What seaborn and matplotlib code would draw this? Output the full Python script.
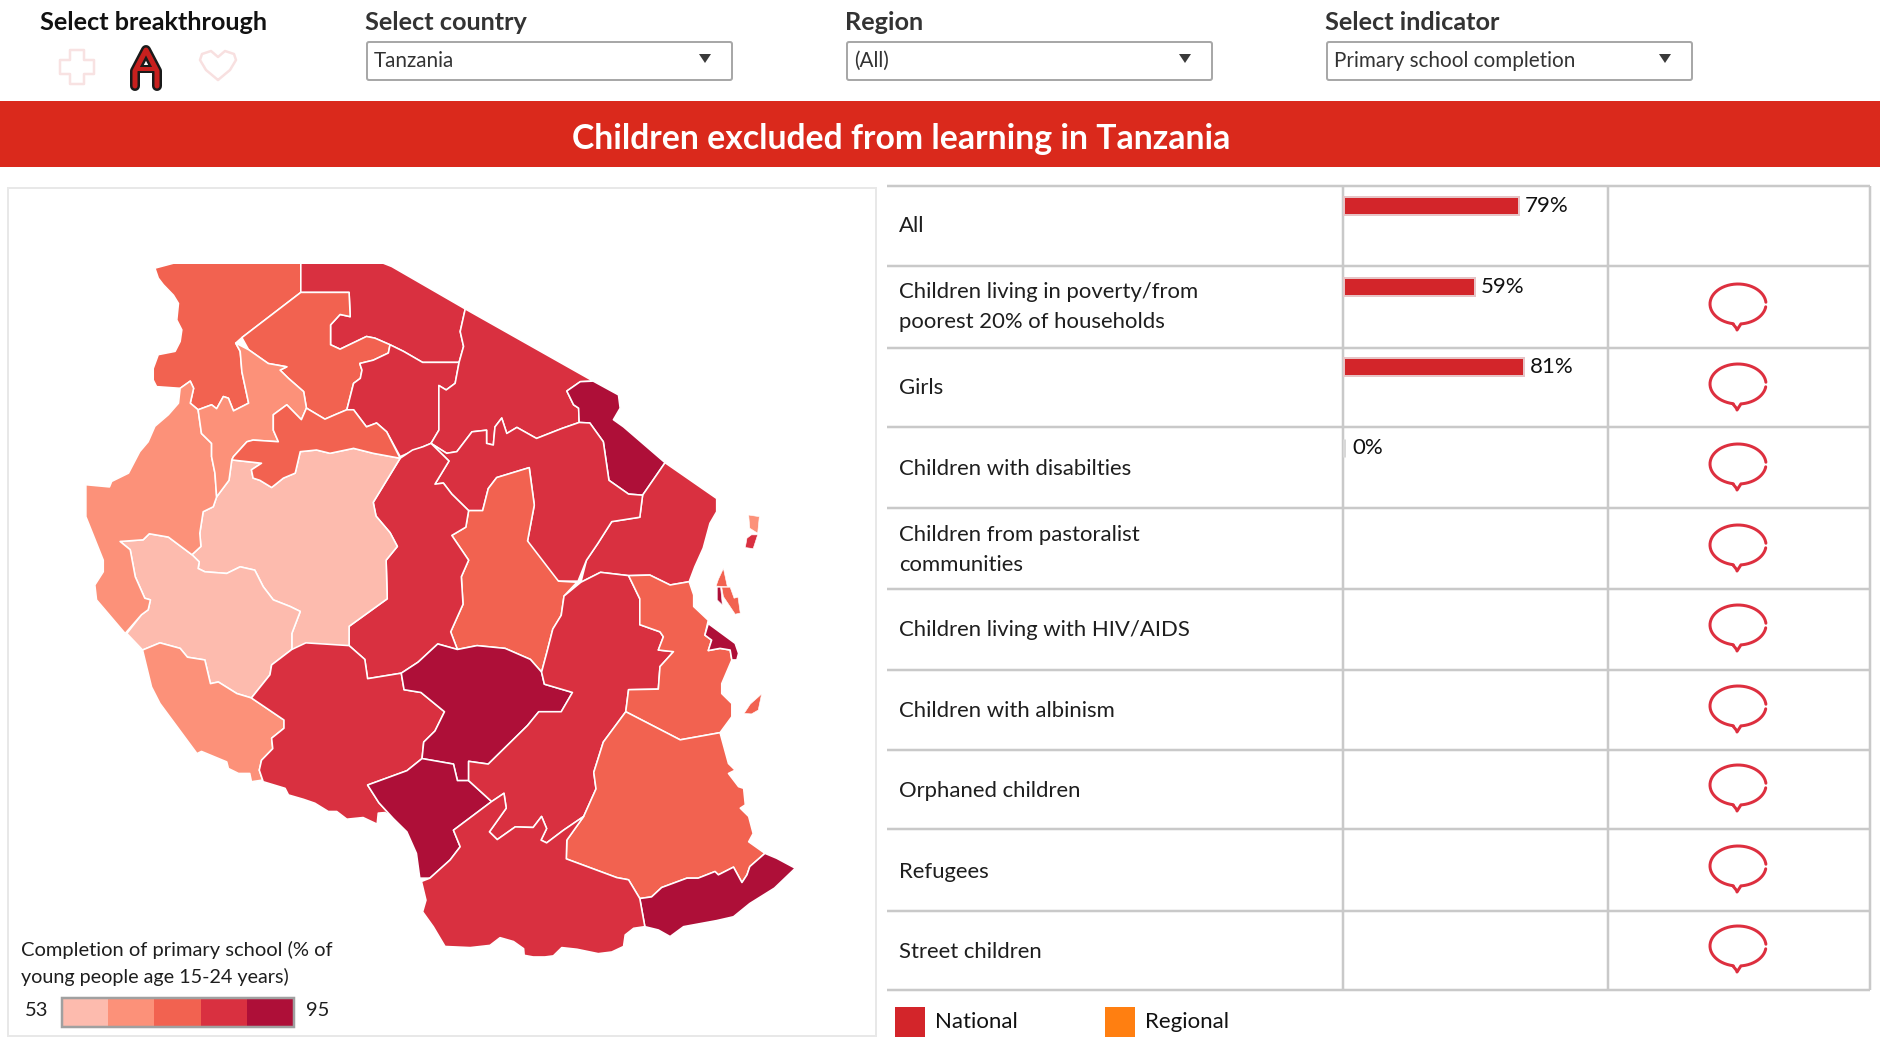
import matplotlib
matplotlib.use("Agg")
import matplotlib.pyplot as plt
from matplotlib.patches import Polygon, Rectangle, FancyBboxPatch
import numpy as np
import pandas as pd
import seaborn as sns

W, H = 1881, 1044

# ---- table data
groups = ["All", "Children living in poverty/from\npoorest 20% of households", "Girls",
          "Children with disabilties", "Children from pastoralist\ncommunities",
          "Children living with HIV/AIDS", "Children with albinism", "Orphaned children",
          "Refugees", "Street children"]
national = [79, 59, 81, 0, np.nan, np.nan, np.nan, np.nan, np.nan, np.nan]
label_y = [226, 307, 388, 469, 550, 630, 711, 791, 872, 952]
row_lines = [186, 266, 348, 427, 508, 589, 670, 750, 829, 911, 990]
bubble_y = [304, 384, 464, 545, 625, 706, 785, 866, 946]

# ---- selectors
selector_titles = ["Select country", "Region", "Select indicator"]
selector_values = ["Tanzania", "(All)", "Primary school completion"]
selector_x = [367, 847, 1327]

legend_colors = ["#FDBBAE", "#FC9179", "#F26250", "#D93040", "#AE0F38"]
legend_min, legend_max = 53, 95

# ---- map regions, outlines
kagera = [(276,160),(309,151),(536,151),(536,204),(431,286),(420,296),(428,311),(431,348),(443,405),(416,419),(407,396),(398,393),(386,415),(377,408),(353,417),(339,405),(345,378),(339,365),(321,378),(279,375),(273,363),(273,342),(282,317),(312,311),(321,293),(324,272),(315,254),(318,224),(309,209),(291,190),(282,178)]
mara = [(536,151),(683,151),(698,157),(829,234),(820,275),(826,302),(818,331),(753,331),(719,311),(695,299),(668,287),(653,284),(606,307),(589,299),(589,263),(606,244),(624,248),(622,204),(536,204)]
mwanza = [(536,204),(622,204),(624,248),(606,244),(589,263),(589,299),(606,307),(653,284),(668,287),(695,299),(692,314),(665,327),(641,333),(645,345),(642,360),(630,369),(627,381),(618,417),(597,426),(579,434),(546,414),(541,384),(514,360),(499,345),(511,339),(478,333),(443,308),(431,286)]
simiyu = [(695,299),(719,311),(753,331),(818,331),(811,369),(795,381),(782,373),(782,454),(768,478),(754,484),(713,502),(689,457),(671,441),(653,448),(630,417),(618,417),(627,381),(630,369),(642,360),(645,345),(641,333),(665,327),(692,314)]
arusha = [(829,234),(1057,365),(1034,366),(1010,383),(1022,408),(1031,414),(1032,440),(1001,451),(956,469),(921,449),(903,460),(894,432),(882,448),(879,481),(867,478),(867,454),(841,457),(814,493),(796,496),(768,478),(782,454),(782,373),(795,381),(811,369),(818,331),(826,302),(820,275)]
kilimanjaro = [(1057,365),(1102,390),(1105,414),(1093,435),(1111,448),(1185,513),(1145,572),(1120,570),(1085,545),(1075,475),(1051,441),(1032,440),(1031,414),(1022,408),(1010,383),(1034,366)]
tanga = [(1185,513),(1277,578),(1277,602),(1265,623),(1253,668),(1238,702),(1228,729),(1194,735),(1158,717),(1120,718),(1070,712),(1035,730),(1045,690),(1065,660),(1090,620),(1140,612),(1145,572)]
manyara = [(768,478),(796,496),(814,493),(841,457),(867,454),(867,478),(879,481),(882,448),(894,432),(903,460),(921,449),(956,469),(1001,451),(1032,440),(1051,441),(1075,475),(1085,545),(1120,570),(1145,572),(1140,612),(1090,620),(1065,660),(1045,690),(1030,728),(995,728),(945,680),(940,655),(952,590),(943,522),(885,540),(870,560),(860,600),(835,600),(805,570),(790,550),(775,552),(800,510)]
dodoma = [(943,522),(952,590),(940,655),(995,728),(1028,730),(1005,755),(1000,790),(985,815),(975,855),(965,893),(945,870),(900,850),(850,845),(815,852),(803,820),(825,770),(822,720),(835,690),(805,645),(830,630),(835,600),(860,600),(870,560),(885,540)]
singida = [(713,505),(735,490),(754,484),(768,478),(800,510),(775,552),(790,550),(805,570),(835,600),(830,630),(805,645),(835,690),(822,720),(825,770),(803,820),(815,852),(780,842),(745,875),(715,895),(655,905),(650,870),(622,845),(622,810),(690,760),(688,690),(708,665),(695,640),(670,610),(665,585)]
tabora = [(413,508),(466,514),(448,526),(451,541),(463,545),(484,558),(505,541),(526,532),(535,493),(564,490),(588,496),(630,487),(665,496),(713,505),(665,585),(670,610),(695,640),(708,665),(688,690),(690,760),(622,810),(622,845),(520,852),(520,823),(535,783),(517,774),(487,762),(469,738),(454,708),(428,702),(404,714),(365,711),(353,705),(355,693),(342,680),(358,665),(356,641),(362,602),(380,593),(386,575),(408,545)]
katavi = [(214,656),(255,653),(266,642),(300,648),(342,680),(355,693),(353,705),(365,711),(404,714),(428,702),(454,708),(469,738),(487,762),(517,774),(535,783),(520,823),(520,852),(484,880),(481,898),(448,940),(422,932),(389,911),(375,914),(365,871),(334,866),(321,850),(285,840),(254,853),(226,823),(252,789),(264,780),(268,762),(258,759),(241,720),(232,671)]
kigoma = [(153,553),(195,557),(199,547),(229,532),(249,493),(264,475),(276,447),(300,426),(318,405),(321,378),(339,365),(345,378),(339,405),(353,417),(359,460),(377,478),(377,502),(383,532),(386,575),(380,593),(362,602),(356,641),(358,665),(342,680),(300,648),(266,642),(255,653),(214,656),(232,671),(241,720),(258,759),(268,762),(264,780),(252,789),(223,823),(172,762),(169,735),(184,711),(184,690),(153,611)]
geita = [(420,296),(443,308),(478,333),(511,339),(499,345),(514,360),(541,384),(546,414),(537,435),(511,408),(487,426),(487,454),(496,475),(451,472),(440,475),(416,502),(413,508),(408,545),(386,575),(383,532),(377,502),(377,478),(359,460),(353,417),(377,408),(386,415),(398,393),(407,396),(416,419),(443,405),(431,348),(428,311)]
shinyanga = [(546,414),(579,434),(597,426),(618,417),(630,417),(653,448),(671,441),(689,457),(713,505),(665,496),(630,487),(588,496),(564,490),(535,493),(526,532),(505,541),(484,558),(463,545),(451,541),(448,526),(466,514),(413,508),(416,502),(440,475),(451,472),(496,475),(487,454),(487,426),(511,408),(537,435)]
rukwa = [(254,853),(285,840),(321,850),(334,866),(365,871),(375,914),(389,911),(422,932),(448,940),(506,980),(506,995),(484,1013),(486,1032),(466,1053),(462,1071),(468,1089),(448,1092),(445,1077),(425,1077),(407,1068),(404,1056),(359,1037),(351,1041),(285,950),(270,920)]
mbeya = [(448,940),(481,898),(484,880),(520,852),(545,840),(622,845),(650,870),(655,905),(715,895),(720,925),(750,930),(792,965),(775,1000),(755,1020),(752,1050),(725,1072),(655,1098),(675,1130),(701,1159),(686,1148),(674,1149),(672,1169),(647,1157),(618,1160),(600,1146),(585,1146),(561,1131),(541,1124),(514,1116),(508,1104),(469,1092),(468,1089),(462,1071),(466,1053),(486,1032),(484,1013),(506,995),(506,980)]
iringa = [(715,895),(745,875),(780,842),(815,852),(850,845),(900,850),(945,870),(965,893),(970,915),(1020,930),(1000,965),(960,965),(940,990),(870,1060),(835,1055),(835,1090),(815,1090),(808,1060),(752,1050),(755,1020),(775,1000),(792,965),(750,930),(720,925)]
njombe = [(655,1098),(725,1072),(752,1050),(808,1060),(815,1090),(835,1090),(876,1128),(808,1180),(820,1210),(802,1234),(766,1267),(748,1267),(742,1222),(725,1183),(701,1159),(675,1130)]
morogoro = [(1035,730),(1070,712),(1120,718),(1140,760),(1140,807),(1176,820),(1182,829),(1173,853),(1200,856),(1176,883),(1173,924),(1120,925),(1115,965),(1075,1020),(1058,1075),(1062,1105),(1040,1155),(1004,1180),(974,1203),(964,1198),(974,1177),(965,1155),(950,1175),(918,1174),(886,1197),(872,1183),(902,1140),(898,1113),(876,1128),(835,1090),(835,1055),(870,1060),(940,990),(960,965),(1000,965),(1020,930),(970,915),(965,893),(975,855),(985,815),(1000,790),(1005,755)]
pwani = [(1120,718),(1158,717),(1194,735),(1228,729),(1236,753),(1236,774),(1262,799),(1256,826),(1268,835),(1262,854),(1283,850),(1301,853),(1304,871),(1286,914),(1286,932),(1304,950),(1304,974),(1283,1003),(1212,1016),(1115,965),(1120,925),(1173,924),(1176,883),(1200,856),(1173,853),(1182,829),(1176,820),(1140,807),(1140,760)]
dar = [(1262,805),(1310,841),(1316,859),(1313,871),(1304,871),(1301,853),(1283,850),(1262,854),(1268,835),(1256,826)]
lindi = [(1115,965),(1212,1016),(1283,1003),(1298,1059),(1310,1071),(1298,1077),(1316,1101),(1325,1104),(1328,1134),(1319,1140),(1334,1155),(1342,1186),(1334,1201),(1363,1222),(1336,1246),(1331,1261),(1322,1275),(1307,1247),(1280,1261),(1274,1255),(1244,1267),(1224,1267),(1179,1284),(1161,1301),(1140,1304),(1120,1270),(1099,1266),(1009,1232),(1010,1198),(1040,1155),(1062,1105),(1058,1075),(1075,1020)]
mtwara = [(1140,1304),(1161,1301),(1179,1284),(1224,1267),(1244,1267),(1274,1255),(1280,1261),(1307,1247),(1322,1275),(1331,1261),(1336,1246),(1363,1222),(1384,1231),(1417,1249),(1380,1285),(1336,1313),(1307,1337),(1277,1344),(1218,1355),(1194,1373),(1173,1361),(1149,1355)]
ruvuma = [(876,1128),(898,1113),(902,1140),(872,1183),(886,1197),(918,1174),(950,1175),(965,1155),(974,1177),(964,1198),(974,1203),(1004,1180),(1040,1155),(1010,1198),(1009,1232),(1099,1266),(1120,1270),(1140,1304),(1149,1355),(1129,1358),(1114,1370),(1111,1391),(1090,1401),(1066,1404),(1028,1396),(1001,1393),(986,1408),(971,1410),(950,1410),(934,1407),(933,1395),(915,1382),(891,1375),(873,1389),(838,1393),(793,1391),(772,1355),(753,1328),(759,1307),(751,1273),(766,1267),(802,1234),(820,1210),(808,1180)]
pemba_n = [(1334,608),(1353,611),(1350,641),(1336,632)]
pemba_s = [(1339,644),(1350,644),(1342,669),(1328,667),(1331,650)]
unguja_n = [(1289,705),(1296,738),(1276,737),(1280,725)]
unguja_s = [(1286,739),(1301,739),(1308,759),(1315,757),(1319,786),(1310,788),(1289,756)]
unguja_w = [(1278,739),(1284,739),(1287,771),(1278,762)]
mafia = [(1357,933),(1351,962),(1339,969),(1326,968),(1337,951)]

regions = [kagera, mara, mwanza, simiyu, arusha, kilimanjaro, tanga, manyara, dodoma, singida,
           tabora, katavi, kigoma, geita, shinyanga, rukwa, mbeya, iringa, njombe, morogoro,
           pwani, dar, lindi, mtwara, ruvuma]
region_values = [72, 84, 72, 84, 84, 92, 84, 84, 72, 84,
                 57, 57, 65, 65, 72, 65, 84, 92, 92, 84,
                 72, 92, 72, 92, 84]
islands = [pemba_n, pemba_s, unguja_n, unguja_s, unguja_w, mafia]
island_values = [65, 84, 72, 72, 92, 72]

sns.set_theme(style="white")
plt.rcParams["font.family"] = ["Lato", "DejaVu Sans"]

INK = "#1E1E1E"
GREY = "#333333"
LINE = "#C9C9C9"
BAR = "#D3252A"
ORANGE = "#FF7F11"
BANNER = "#DA291C"
BUBBLE = "#DD2F3F"


def px(n):
    # pixels to points at dpi=100
    return n * 0.72


def ellipse_pts(cx, cy, a, b, t0, t1, n=80):
    t = np.radians(np.linspace(t0, t1, n))
    return cx + a * np.cos(t), cy + b * np.sin(t)


fig = plt.figure(figsize=(W / 100, H / 100), dpi=100)
bg = fig.add_axes([0, 0, 1, 1])
bg.set_xlim(0, W)
bg.set_ylim(H, 0)
bg.axis("off")

# header
bg.text(40, 23, "Select breakthrough", fontsize=18.2, fontweight="bold", color="#111111", va="center")
for title, value, x0 in zip(selector_titles, selector_values, selector_x):
    bg.text(x0 - 2, 23, title, fontsize=18.2, fontweight="bold", color=GREY, va="center")
    bg.add_patch(FancyBboxPatch((x0, 42), 365, 38, boxstyle="round,pad=0,rounding_size=2",
                                fc="white", ec="#A8A8A8", lw=px(2)))
    bg.text(x0 + 7, 61, value, fontsize=14.9, color=GREY, va="center")
    ax_tri = x0 + 338
    bg.add_patch(Polygon([(ax_tri - 6, 54), (ax_tri + 6, 54), (ax_tri, 63)], fc="#3A3A3A", ec="none"))

# breakthrough icons
cross = [(70,50),(84,50),(84,60),(94,60),(94,74),(84,74),(84,84),(70,84),(70,74),(60,74),(60,60),(70,60)]
bg.add_patch(Polygon(cross, closed=True, fc="white", ec="#F8E2E2", lw=px(2.5), joinstyle="round"))
hx = [218, 206, 200, 202, 211, 218, 225, 234, 236, 230, 218]
hy = [80, 70, 60, 54, 51, 57, 51, 54, 60, 70, 80]
bg.plot(hx, hy, color="#F8E0E0", lw=px(2.5), solid_joinstyle="round")
for col, lw in [("#1A1A1A", 10), ("#C8201E", 5)]:
    bg.plot([135, 135, 146, 157, 157], [86, 71, 50, 71, 86], color=col, lw=px(lw),
            solid_capstyle="round", solid_joinstyle="round")
    bg.plot([137, 155], [69, 69], color=col, lw=px(lw * 0.8), solid_capstyle="butt")

# banner
bg.add_patch(Rectangle((0, 101), W, 66, fc=BANNER, ec="none"))
bg.text(901, 139, "Children excluded from learning in Tanzania", color="white", fontsize=24.3,
        fontweight="bold", ha="center", va="center")

# map panel
bg.add_patch(Rectangle((8, 188), 868, 848, fc="white", ec="#E8E8E8", lw=px(2)))

# table grid
for y in row_lines:
    bg.plot([887, 1870], [y, y], color=LINE, lw=px(2.5), solid_capstyle="butt")
for x in [1343, 1608, 1870]:
    bg.plot([x, x], [186, 990], color=LINE, lw=px(2.5), solid_capstyle="butt")
for name, y in zip(groups, label_y):
    bg.text(899, y, name, fontsize=15.9, color=INK, va="center", linespacing=1.6)

# comment bubbles
for y in bubble_y:
    xs, ys = ellipse_pts(1738, y, 28, 20, 8, 84)
    xs = np.concatenate([xs, [1737, 1737, 1733]])
    ys = np.concatenate([ys, [y + 26, y + 25, y + 20]])
    xt, yt = ellipse_pts(1738, y, 28, 20, 100, 355)
    bg.plot(np.concatenate([xs, xt]), np.concatenate([ys, yt]), color=BUBBLE, lw=px(3),
            solid_joinstyle="round")

# table legend
bg.add_patch(Rectangle((895, 1007), 30, 30, fc=BAR, ec="none"))
bg.text(935, 1022, "National", fontsize=16, color="#111111", va="center")
bg.add_patch(Rectangle((1105, 1007), 30, 30, fc=ORANGE, ec="none"))
bg.text(1145, 1022, "Regional", fontsize=16, color="#111111", va="center")

# bars
df = pd.DataFrame({"group": groups, "national": national})
ax_bar = fig.add_axes([1344.5 / W, 1 - 990 / H, 263.5 / W, (990 - 186) / H])
sns.barplot(data=df, x="national", y="group", orient="h", color=BAR, saturation=1,
            width=18 / 80.6, edgecolor="#E6C4C6", linewidth=px(2), ax=ax_bar)
ax_bar.set_xlim(0, 263.5 / 2.21)
ax_bar.set_ylim((990 - 206) / 80.6, (186 - 206) / 80.6)
ax_bar.axis("off")
ax_bar.patch.set_alpha(0)
for patch in ax_bar.patches:
    patch.set_clip_on(False)
    if patch.get_width() == 0:
        patch.set_edgecolor("#D8D8D8")
        patch.set_linewidth(px(3))
for i, v in enumerate(national):
    if not np.isnan(v):
        ax_bar.annotate(f"{v:.0f}%", (v, i), xytext=(6 if v > 0 else 8, 0), textcoords="offset pixels",
                        fontsize=16, color="#111111", va="center", ha="left")

# map
ax_map = fig.add_axes([0, 1 - 1044 / H, 880 / W, 864 / H])
ax_map.set_xlim(0, 1568)
ax_map.set_ylim(1568, 0)
ax_map.axis("off")
ax_map.patch.set_alpha(0)
bins = np.linspace(legend_min, legend_max, len(legend_colors) + 1)


def bin_color(value):
    idx = min(np.searchsorted(bins, value) - 1, len(legend_colors) - 1)
    return legend_colors[idx]


for outline, value in zip(regions, region_values):
    ax_map.add_patch(Polygon(outline, closed=True, fc=bin_color(value), ec="white", lw=px(1.6),
                             joinstyle="round"))
for outline, value in zip(islands, island_values):
    ax_map.add_patch(Polygon(outline, closed=True, fc=bin_color(value), ec="white", lw=px(0.6)))

# map legend
bg.set_zorder(0)
ax_bar.set_zorder(1)
ax_map.set_zorder(1)
ax_map.text(38, 1397, "Completion of primary school (% of", fontsize=14.5, color=INK, va="center")
ax_map.text(38, 1446, "young people age 15-24 years)", fontsize=14.2, color=INK, va="center")
ax_map.text(66, 1507, str(legend_min), fontsize=14.5, color=INK, va="center", ha="center")
ax_map.text(566, 1507, str(legend_max), fontsize=14.5, color=INK, va="center", ha="center")
step = (523 - 110) / len(legend_colors)
for i, col in enumerate(legend_colors):
    ax_map.add_patch(Rectangle((110 + i * step, 1485), step, 53, fc=col, ec="none"))
ax_map.add_patch(Rectangle((110, 1485), 413, 53, fc="none", ec="#A0A0A0", lw=px(2.5)))

fig.savefig("out.png", dpi=100, facecolor="white")
